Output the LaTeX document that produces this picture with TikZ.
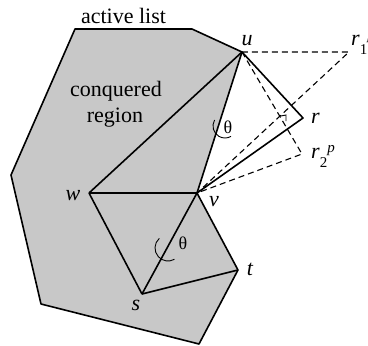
\documentclass[tikz,border=0pt]{standalone}
\usepackage{fontspec}
\setmainfont{Liberation Serif}
\definecolor{regiongray}{RGB}{200,200,200}
\begin{document}
\begin{tikzpicture}[x=1pt,y=-1pt,
  edge/.style={line width=1.6pt, line join=round},
  dashline/.style={dash pattern=on 6pt off 4pt, line width=1.1pt},
  thinmark/.style={line width=0.9pt},
  lbl/.style={font=\fontsize{22}{26}\selectfont\itshape, inner sep=0pt, anchor=base},
  txt/.style={font=\fontsize{22}{26}\selectfont, inner sep=0pt, anchor=base},
  ang/.style={font=\fontsize{18}{20}\selectfont, inner sep=0pt}]
\useasboundingbox (0,0) rectangle (368,346);
% vertices
\coordinate (A) at (75,29);
\coordinate (B) at (192,29);
\coordinate (u) at (242,52);
\coordinate (v) at (197,193);
\coordinate (t) at (238,270);
\coordinate (C) at (199,344);
\coordinate (D) at (41,304);
\coordinate (E) at (11,175);
\coordinate (w) at (89,193);
\coordinate (s) at (142,294);
\coordinate (r) at (303,118);
\coordinate (r1) at (349,52);
\coordinate (r2) at (302,154);
\coordinate (m1) at (281,116);
\coordinate (m2) at (286,115);
\coordinate (m3) at (286,121);
% region
\fill[regiongray] (A) -- (B) -- (u) -- (v) -- (t) -- (C) -- (D) -- (E) -- cycle;
\draw[edge] (A) -- (B) -- (u) -- (v) -- (t) -- (C) -- (D) -- (E) -- cycle;
% inner triangles
\draw[edge] (w) -- (u);
\draw[edge] (w) -- (v);
\draw[edge] (w) -- (s);
\draw[edge] (s) -- (v);
\draw[edge] (s) -- (t);
\draw[edge] (u) -- (r) -- (v);
% dashed candidates
\draw[dashline] (u) -- (r1) -- (v);
\draw[dashline] (u) -- (r2) -- (v);
\draw[thinmark] (m1) -- (m2) -- (m3);
% angle marks
\draw[thinmark] ([shift={(210:12)}]225,126) arc[start angle=210, end angle=60, radius=12];
\draw[thinmark] ([shift={(228:13)}]168,248) arc[start angle=228, end angle=60, radius=13];
\node[ang] (th1) at (228,127) {θ};
\node[ang] (th2) at (183,243) {θ};
% texts
\node[txt] (al) at (123.5,23) {active list};
\node[txt] (cq) at (116,96) {conquered};
\node[txt] (rg) at (115,122) {region};
\node[lbl] (lu) at (247,45) {u};
\node[lbl] (lw) at (73,200) {w};
\node[lbl] (lv) at (214,206) {v};
\node[lbl] (lt) at (250,275) {t};
\node[lbl] (ls) at (136,310) {s};
\node[lbl, anchor=base west] (lr) at (311,123) {r};
\node[lbl, anchor=base west] (lr2) at (311,158) {r\raisebox{-9pt}{\fontsize{15}{15}\selectfont\upshape 2}\raisebox{6pt}{\fontsize{15}{15}\selectfont p}};
\node[lbl, anchor=base west] (lr1) at (351,45) {r\raisebox{-9pt}{\fontsize{15}{15}\selectfont\upshape 1}\raisebox{6pt}{\fontsize{15}{15}\selectfont p}};
\end{tikzpicture}
\end{document}
